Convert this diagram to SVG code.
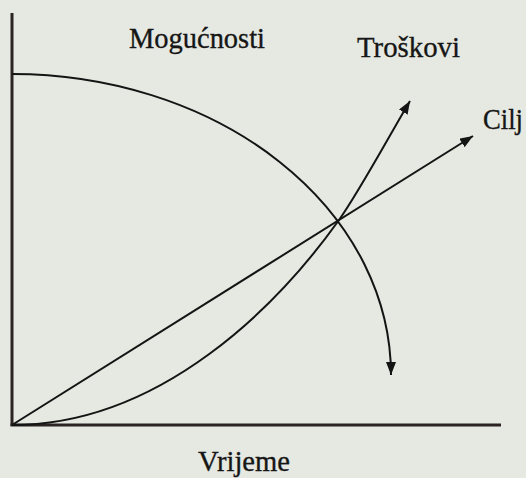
<svg xmlns="http://www.w3.org/2000/svg" width="526" height="478" viewBox="0 0 526 478">
  <style>
    .lbl { font-family: "Liberation Serif", "Times New Roman", serif; font-size: 29px; fill: #161616; stroke: #161616; stroke-width: 0.35; }
    .axis { stroke: #2b2422; stroke-width: 3; fill: none; }
    .curve { stroke: #141414; stroke-width: 2; fill: none; }
  </style>
  <defs>
    <marker id="arrow" markerUnits="userSpaceOnUse" markerWidth="14" markerHeight="11" refX="13" refY="5" orient="auto">
      <path d="M0,0 L13,5 L0,10 z" fill="#141414"/>
    </marker>
  </defs>
  <rect x="0" y="0" width="526" height="478" fill="#e6e9e2"/>

  <g id="axes">
    <line class="axis" x1="12" y1="13" x2="12" y2="426"/>
    <line class="axis" x1="10.5" y1="425" x2="501" y2="425"/>
  </g>

  <g id="connectors">
    <path id="mogucnosti-curve" class="curve" d="M12,74 A379,301 0 0 1 391,375" marker-end="url(#arrow)"/>
    <path id="cilj-line" class="curve" d="M12,425 L473,136" marker-end="url(#arrow)"/>
    <path id="troskovi-curve" class="curve" d="M12,425 C162,425 279,304 339,220 C359,192 392,131 410,101" marker-end="url(#arrow)"/>
  </g>

  <g id="label-mogucnosti">
    <text class="lbl" x="129" y="48" textLength="136" lengthAdjust="spacingAndGlyphs">Mogućnosti</text>
  </g>
  <g id="label-troskovi">
    <text class="lbl" x="357" y="57" textLength="103" lengthAdjust="spacingAndGlyphs">Troškovi</text>
  </g>
  <g id="label-cilj">
    <text class="lbl" x="483" y="129" textLength="40" lengthAdjust="spacingAndGlyphs">Cilj</text>
  </g>
  <g id="label-vrijeme">
    <text class="lbl" x="198" y="471" textLength="92" lengthAdjust="spacingAndGlyphs">Vrijeme</text>
  </g>
</svg>
